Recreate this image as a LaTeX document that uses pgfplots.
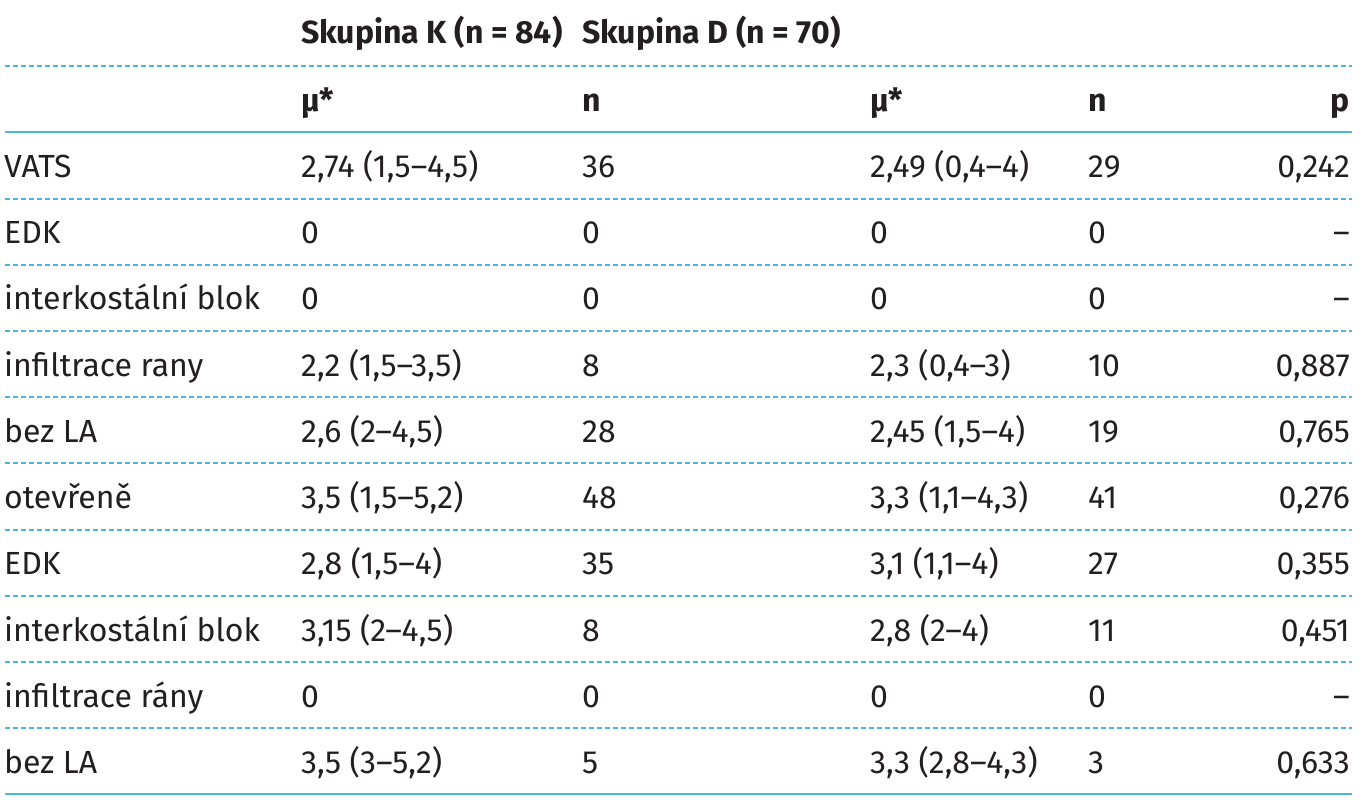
\documentclass[border=0pt]{standalone}
\usepackage{fontspec}
\setmainfont{Fira Sans}
\usepackage{pgfplots}
\usepackage{pgfplotstable}
\pgfplotsset{compat=1.18}
\definecolor{ink}{RGB}{35,31,32}
\definecolor{rule}{RGB}{72,184,212}

% y = baseline of each row (pixels from the top)
\pgfplotstableread[col sep=semicolon]{
y;a;b;c;d;e;f
177;VATS;2,74 (1,5–4,5);36;2,49 (0,4–4);29;0,242
243;EDK;0;0;0;0;–
309;interkostální blok;0;0;0;0;–
376;infiltrace rany;2,2 (1,5–3,5);8;2,3 (0,4–3);10;0,887
442;bez LA;2,6 (2–4,5);28;2,45 (1,5–4);19;0,765
508;otevřeně;3,5 (1,5–5,2);48;3,3 (1,1–4,3);41;0,276
574;EDK;2,8 (1,5–4);35;3,1 (1,1–4);27;0,355
641;interkostální blok;3,15 (2–4,5);8;2,8 (2–4);11;0,451
707;infiltrace rány;0;0;0;0;–
773;bez LA;3,5 (3–5,2);5;3,3 (2,8–4,3);3;0,633
}\rows

\pgfplotstableread[col sep=semicolon]{
y;b;c;d;e;f
111;μ*;n;μ*;n;p
}\head

\pgfplotstableread[col sep=semicolon]{
x;y;t
301;44;Skupina K (n = 84)
582;44;Skupina D (n = 70)
}\groups

\begin{document}
\begin{tikzpicture}
\begin{axis}[
    width=1362pt, height=800pt, scale only axis,
    xmin=0, xmax=1362, ymin=0, ymax=800,
    y dir=reverse, hide axis, clip=false,
    point meta=explicit symbolic,
    every node near coord/.append style={inner sep=0pt, text=ink,
        font=\fontsize{32}{38}\selectfont},
    txt/.style={only marks, mark=none, nodes near coords,
        nodes near coords align={anchor=base west}},
    txtr/.style={only marks, mark=none, nodes near coords,
        nodes near coords align={anchor=base east}},
    dash/.style={rule, line width=2pt, dash pattern=on 5pt off 3pt},
    solid rule/.style={rule, line width=2.2pt},
]
\path (axis cs:0,0) rectangle (axis cs:1362,800);

% rules
\addplot[dash] coordinates {(5,66) (1352,66)};
\addplot[solid rule] coordinates {(5,132) (1352,132)};
\addplot[dash] coordinates {(5,199) (1352,199)};
\addplot[dash] coordinates {(5,265) (1352,265)};
\addplot[dash] coordinates {(5,331) (1352,331)};
\addplot[dash] coordinates {(5,397) (1352,397)};
\addplot[dash] coordinates {(5,463) (1352,463)};
\addplot[dash] coordinates {(5,530) (1352,530)};
\addplot[dash] coordinates {(5,596) (1352,596)};
\addplot[dash] coordinates {(5,662) (1352,662)};
\addplot[dash] coordinates {(5,728) (1352,728)};
\addplot[solid rule] coordinates {(5,794) (1352,794)};

% header
\addplot[txt, every node near coord/.append style={font=\fontsize{32}{38}\selectfont\bfseries}]
    table[x=x, y=y, meta=t] {\groups};
\addplot[txt, every node near coord/.append style={font=\fontsize{32}{38}\selectfont\bfseries}]
    table[x expr=301, y=y, meta=b] {\head};
\addplot[txt, every node near coord/.append style={font=\fontsize{32}{38}\selectfont\bfseries}]
    table[x expr=582, y=y, meta=c] {\head};
\addplot[txt, every node near coord/.append style={font=\fontsize{32}{38}\selectfont\bfseries}]
    table[x expr=870, y=y, meta=d] {\head};
\addplot[txt, every node near coord/.append style={font=\fontsize{32}{38}\selectfont\bfseries}]
    table[x expr=1088, y=y, meta=e] {\head};
\addplot[txtr, every node near coord/.append style={font=\fontsize{32}{38}\selectfont\bfseries}]
    table[x expr=1350, y=y, meta=f] {\head};

% body
\addplot[txt] table[x expr=4, y=y, meta=a] {\rows};
\addplot[txt] table[x expr=301, y=y, meta=b] {\rows};
\addplot[txt] table[x expr=582, y=y, meta=c] {\rows};
\addplot[txt] table[x expr=870, y=y, meta=d] {\rows};
\addplot[txt] table[x expr=1088, y=y, meta=e] {\rows};
\addplot[txtr] table[x expr=1350, y=y, meta=f] {\rows};
\end{axis}
\end{tikzpicture}
\end{document}
